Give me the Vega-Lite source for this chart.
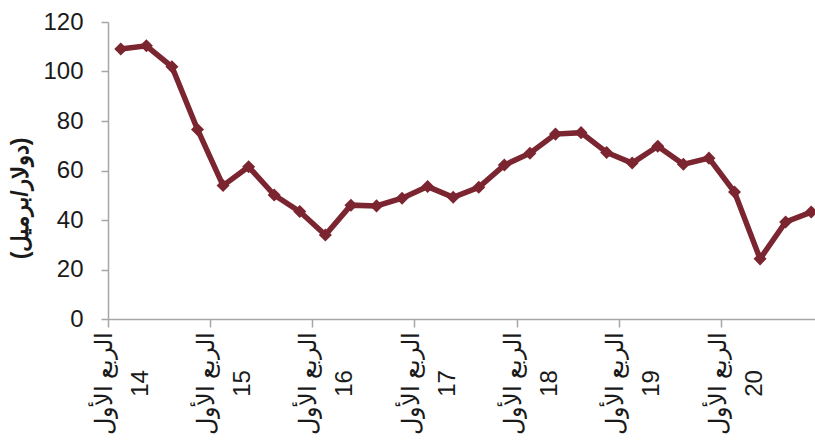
{
  "$schema": "https://vega.github.io/schema/vega-lite/v6.json",
  "autosize": "none",
  "width": 707,
  "height": 297,
  "padding": {"left": 108, "top": 22, "right": 0, "bottom": 122},
  "background": "white",
  "config": {"view": {"stroke": null}, "font": "Liberation Sans"},
  "data": {"values": [
    {"q": "الربع الأول 14", "v": 109.1},
    {"q": "الربع الثاني 14", "v": 110.4},
    {"q": "الربع الثالث 14", "v": 101.9},
    {"q": "الربع الرابع 14", "v": 76.6},
    {"q": "الربع الأول 15", "v": 53.9},
    {"q": "الربع الثاني 15", "v": 61.5},
    {"q": "الربع الثالث 15", "v": 50.1},
    {"q": "الربع الرابع 15", "v": 43.4},
    {"q": "الربع الأول 16", "v": 33.9},
    {"q": "الربع الثاني 16", "v": 46.0},
    {"q": "الربع الثالث 16", "v": 45.7},
    {"q": "الربع الرابع 16", "v": 48.8},
    {"q": "الربع الأول 17", "v": 53.5},
    {"q": "الربع الثاني 17", "v": 49.2},
    {"q": "الربع الثالث 17", "v": 53.2},
    {"q": "الربع الرابع 17", "v": 62.2},
    {"q": "الربع الأول 18", "v": 67.0},
    {"q": "الربع الثاني 18", "v": 74.7},
    {"q": "الربع الثالث 18", "v": 75.3},
    {"q": "الربع الرابع 18", "v": 67.3},
    {"q": "الربع الأول 19", "v": 63.0},
    {"q": "الربع الثاني 19", "v": 69.8},
    {"q": "الربع الثالث 19", "v": 62.5},
    {"q": "الربع الرابع 19", "v": 65.0},
    {"q": "الربع الأول 20", "v": 51.3},
    {"q": "الربع الثاني 20", "v": 24.3},
    {"q": "الربع الثالث 20", "v": 39.2},
    {"q": "الربع الرابع 20", "v": 43.2}
  ]},
  "mark": {"type": "line", "color": "#7B2530", "strokeWidth": 5.5, "point": {"shape": "diamond", "size": 170, "filled": true, "color": "#7B2530"}},
  "encoding": {
    "x": {
      "field": "q", "type": "ordinal", "sort": null,
      "scale": {"type": "band", "paddingInner": 0, "paddingOuter": 0, "range": [0, 716]},
      "axis": {
        "title": null,
        "values": ["الربع الأول 14", "الربع الأول 15", "الربع الأول 16", "الربع الأول 17", "الربع الأول 18", "الربع الأول 19", "الربع الأول 20"],
        "bandPosition": 0,
        "labelExpr": "[slice(datum.label, 0, -3), slice(datum.label, -2)]",
        "labelAngle": 270,
        "labelAlign": "center",
        "labelBaseline": "middle",
        "labelLineHeight": 36,
        "labelPadding": 56,
        "labelOffset": -16,
        "labelFontSize": 24,
        "labelColor": "#1a1a1a",
        "labelOverlap": false,
        "labelBound": false,
        "labelFlush": false,
        "tickSize": 8,
        "tickColor": "#A6A6A6",
        "tickWidth": 1.5,
        "domainColor": "#A6A6A6",
        "domainWidth": 1.5
      }
    },
    "y": {
      "field": "v", "type": "quantitative",
      "scale": {"domain": [0, 120]},
      "axis": {
        "title": "(دولار/برميل)",
        "titleFontSize": 23,
        "titleFontWeight": "bold",
        "titleColor": "#1a1a1a",
        "titleX": -88,
        "titleY": 176,
        "titleAngle": 270,
        "titleAlign": "center",
        "titleBaseline": "middle",
        "values": [0, 20, 40, 60, 80, 100, 120],
        "grid": false,
        "labelFontSize": 24,
        "labelColor": "#1a1a1a",
        "labelPadding": 18,
        "tickSize": 7,
        "tickColor": "#A6A6A6",
        "tickWidth": 1.5,
        "domainColor": "#A6A6A6",
        "domainWidth": 1.5
      }
    }
  }
}
